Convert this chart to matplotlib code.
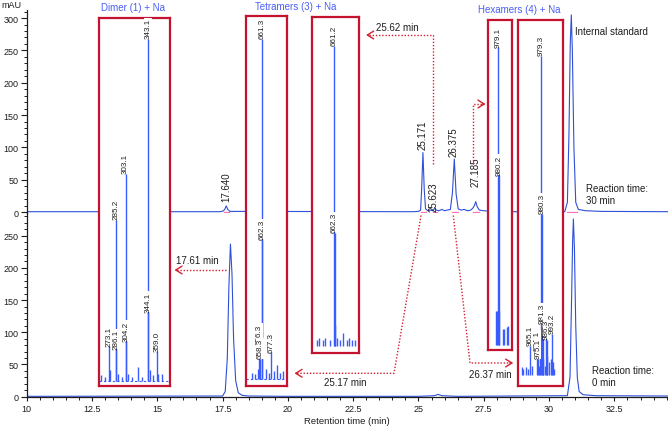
import matplotlib
matplotlib.use('Agg')
import matplotlib.pyplot as plt
from matplotlib.ticker import MultipleLocator, FuncFormatter

plt.rcParams['font.family'] = ['Liberation Sans', 'DejaVu Sans']

# chromatogram after 30 min reaction (top trace)
time_30 = [10.0, 17.40, 17.52, 17.58, 17.64, 17.70, 17.78, 24.80, 25.00, 25.08,
           25.12, 25.17, 25.22, 25.27, 25.35, 25.45, 25.55, 25.62, 25.68, 25.78,
           25.90, 26.00, 26.10, 26.22, 26.30, 26.37, 26.44, 26.52, 26.62, 26.75,
           26.88, 27.00, 27.08, 27.14, 27.19, 27.25, 27.33, 27.50, 27.80, 28.20,
           30.60, 30.70, 30.76, 30.81, 30.85, 30.89, 30.95, 31.02, 31.12, 31.40,
           32.00, 34.60]
mau_30 = [0.5, 0.5, 1.5, 4, 9.5, 4, 1, 0.5, 1, 3,
          35, 92, 35, 5, 2, 3, 2, 6, 3, 2,
          4, 2, 3, 4, 30, 82, 28, 5, 3, 4,
          2, 3, 6, 10, 16, 8, 3, 2, 1, 0.5,
          0.5, 15, 120, 260, 305, 250, 100, 15, 4, 2,
          1, 0.5]

# chromatogram at 0 min (bottom trace)
time_0 = [10.0, 17.50, 17.60, 17.68, 17.74, 17.80, 17.86, 17.92, 18.00, 18.10,
          18.25, 18.50, 20.0, 25.0, 25.60, 25.75, 25.90, 26.5, 30.70, 30.80,
          30.86, 30.90, 30.93, 30.97, 31.02, 31.08, 31.15, 31.30, 31.80, 34.60]
mau_0 = [0.5, 1, 8, 60, 170, 237, 190, 90, 25, 6,
         2, 1, 0.5, 0.5, 1.5, 3.5, 1.5, 0.5, 1.5, 30,
         150, 240, 276, 230, 110, 30, 8, 3, 1.5, 1]

peak_names = ['17.640', '25.171', '25.623', '26.375', '27.185']
peak_label_x = [17.65, 25.16, 25.57, 26.36, 27.20]
peak_label_y = [17, 97, 1, 87, 40]

# mass spectra (relative intensity)
dimer_mz = [258.7, 266, 273.1, 274.9, 285.2, 286.1, 289.9, 296, 303.1, 304.2,
            307.9, 315, 325.9, 333, 343.1, 344.1, 347, 352, 359.0, 362, 368]
dimer_int = [1.5, 1, 10, 3, 47, 9, 2, 1, 60.5, 11.5,
             2, 1, 4, 1, 100, 20, 3, 1.5, 8.5, 2, 2]
dimer_labels = ['273.1', '285.2', '286.1', '303.1', '304.2', '343.1', '344.1', '359.0']

tetra1_mz = [643.5, 649.3, 655.3, 656.3, 658.3, 661.3, 662.3, 668.6, 674.3, 677.3,
             683, 687.3, 693, 698.9]
tetra1_int = [2, 1.5, 3, 10.3, 6, 100, 41, 3, 2, 8,
              2.5, 4.4, 2, 2.5]
tetra1_labels = ['656.3', '658.3', '661.3', '662.3', '677.3']

tetra2_mz = [630.9, 635.5, 641.4, 646, 654.2, 661.2, 662.3, 663.3, 667, 671.7,
             677.3, 683.4, 688, 692.7, 697.4]
tetra2_int = [2, 2.5, 2, 2.5, 2, 100, 37.6, 7, 2.5, 2,
              4.2, 2, 2.5, 2, 2]
tetra2_labels = ['661.2', '662.3']

hexa1_mz = [975.1, 976.8, 979.1, 980.2, 980.9, 986.8, 989.1, 993.8, 996.1]
hexa1_int = [11.5, 11.5, 100, 57, 11.5, 5.4, 5.4, 6, 6.5]
hexa1_labels = ['979.1', '980.2']

hexa2_mz = [955.2, 957.2, 960.5, 963.4, 965.1, 967.7, 974.1, 975.1, 977.0, 978.3,
            979.3, 980.3, 981.3, 982.3, 984.0, 985.3, 986.3, 987.3, 989.0, 991.5,
            993.2, 994.5, 996.0]
hexa2_int = [2.4, 1.9, 2.4, 1.9, 9.2, 3, 7.6, 5, 3, 6,
             100, 50.4, 16, 5, 3, 12, 11, 6, 4, 5,
             13, 4, 2]
hexa2_labels = ['965.1', '974.1', '975.1', '979.3', '980.3', '981.3', '985.3', '986.3', '993.2']

trace_blue = '#2f50d8'
spec_blue = '#3a5cff'
frame_red = '#c4122f'
arrow_red = '#d42030'
head_blue = '#4a5ef5'
ink = '#1e1e1e'

W, H = 668, 427
fig = plt.figure(figsize=(W / 100, H / 100), dpi=100)


def px_axes(l, t, r, b):
    return fig.add_axes([l / W, 1 - b / H, (r - l) / W, (b - t) / H])


xmax = 10 + (W - 26.7) / 26.12

ax0 = px_axes(26.7, 213.5, W, 398.3)
ax30 = px_axes(26.7, 11, W, 214)
for ax in (ax0, ax30):
    ax.patch.set_alpha(0)
    ax.set_xlim(10, xmax)
    ax.spines['top'].set_visible(False)
    ax.spines['right'].set_visible(False)
    ax.spines['left'].set_color(ink)
    ax.spines['left'].set_linewidth(0.9)
    ax.yaxis.set_major_locator(MultipleLocator(50))
    ax.yaxis.set_minor_locator(MultipleLocator(10))
    ax.tick_params(axis='y', which='major', direction='out', length=4.3, width=0.8,
                   labelsize=6.5, pad=1.5, colors=ink)
    ax.tick_params(axis='y', which='minor', direction='out', length=2.4, width=0.7, colors=ink)

ax0.set_ylim(-1, 286)
ax30.set_ylim(-1.5, 312.5)
ax30.spines['bottom'].set_visible(False)
ax30.set_xticks([])

ax0.spines['bottom'].set_color(ink)
ax0.spines['bottom'].set_linewidth(0.9)
ax0.xaxis.set_major_locator(MultipleLocator(2.5))
ax0.xaxis.set_minor_locator(MultipleLocator(0.5))
ax0.xaxis.set_major_formatter(FuncFormatter(lambda v, p: '%g' % v))
ax0.tick_params(axis='x', which='major', direction='out', length=3.2, width=0.8,
                labelsize=6.5, pad=1.5, colors=ink)
ax0.tick_params(axis='x', which='minor', direction='out', length=2, width=0.7, colors=ink)
ax0.set_xlabel('Retention time (min)', fontsize=6.8, labelpad=2, color=ink)

ax0.plot(time_0, mau_0, color=trace_blue, lw=0.8)
ax30.plot(time_30, mau_30, color=trace_blue, lw=0.8)

# integration marks
for a, b in [(17.55, 17.74), (25.08, 25.30), (25.55, 25.70), (26.28, 26.50),
             (27.08, 27.33), (30.70, 31.05)]:
    ax30.plot([a, b], [0.8, 0.8], color='#ff6fb5', lw=0.9)

for name, x, y in zip(peak_names, peak_label_x, peak_label_y):
    ax30.text(x, y, name, rotation=90, ha='center', va='bottom', fontsize=7, color=ink)

ax30.text(30.99, 280, 'Internal standard', fontsize=7, va='center', color=ink)
ax30.text(31.42, 28, 'Reaction time:\n30 min', fontsize=7, va='center',
          linespacing=1.35, color=ink)
ax0.text(31.65, 32, 'Reaction time:\n0 min', fontsize=7, va='center',
         linespacing=1.35, color=ink)


def spectrum(box, mz, inten, labels, xlim, ylim, dashed=False):
    ax = px_axes(*box)
    ax.set_zorder(5)
    ax.vlines(mz, 0, inten, colors=spec_blue, lw=1.0)
    if dashed:
        ax.axhline(0, color=spec_blue, lw=0.8, ls=(0, (2, 2)))
    height = dict(zip(mz, inten))
    for lab in labels:
        x = float(lab)
        ax.annotate(lab, (x, height[x]), xytext=(0, 0.5), textcoords='offset points',
                    rotation=90, ha='center', va='bottom', fontsize=5.8, color=ink,
                    bbox=dict(fc='white', ec='none', pad=0.1))
    ax.set_xlim(xlim)
    ax.set_ylim(ylim)
    ax.set_xticks([])
    ax.set_yticks([])
    for s in ax.spines.values():
        s.set_color(frame_red)
        s.set_linewidth(1.6)
    return ax


spectrum((99, 19, 170, 387), dimer_mz, dimer_int, dimer_labels, (255.1, 383), (-1.6, 106.1), dashed=True)
spectrum((246, 16.7, 286.7, 387.3), tetra1_mz, tetra1_int, tetra1_labels, (633.5, 704.8), (-2, 106.9), dashed=True)
spectrum((312.3, 18.3, 359, 354), tetra2_mz, tetra2_int, tetra2_labels, (623.2, 705), (-2.4, 109.5))
spectrum((487.7, 20.7, 512.3, 350.7), hexa1_mz, hexa1_int, hexa1_labels, (960.5, 1003.6), (-1.6, 109.3))
spectrum((518.3, 20.7, 562.7, 387.3), hexa2_mz, hexa2_int, hexa2_labels, (950.9, 1006.4), (-3.5, 111.3))

# overlay for arrows and headings, in image pixels
ov = fig.add_axes([0, 0, 1, 1])
ov.set_zorder(10)
ov.patch.set_alpha(0)
ov.set_xlim(0, W)
ov.set_ylim(H, 0)
ov.axis('off')

arrows = [
    ([(225.7, 271), (176, 271)], (171.7, 271)),
    ([(421, 216.5), (394, 374.3), (296, 374.3)], (291.7, 374.3)),
    ([(433.3, 165), (433.3, 36), (367.5, 36)], (363.3, 36)),
    ([(453.3, 216.5), (470, 364), (511.5, 364)], (516, 364)),
    ([(473.3, 165), (473.3, 105), (484, 105)], (488.3, 105)),
]
for path, tip in arrows:
    xs = [p[0] for p in path]
    ys = [p[1] for p in path]
    ov.plot(xs, ys, color=arrow_red, lw=1.0, ls=(0, (1, 1.3)))
    dx = tip[0] - xs[-1]
    ov.annotate('', xy=tip, xytext=(tip[0] - 2 * dx, tip[1]),
                arrowprops=dict(arrowstyle='->,head_length=0.45,head_width=0.28',
                                color=arrow_red, lw=1.0))

ov.text(197.5, 261, '17.61 min', fontsize=7, ha='center', va='center', color=ink)
ov.text(345, 383, '25.17 min', fontsize=7, ha='center', va='center', color=ink)
ov.text(397.5, 28.3, '25.62 min', fontsize=7, ha='center', va='center', color=ink)
ov.text(490.3, 375, '26.37 min', fontsize=7, ha='center', va='center', color=ink)

ov.text(133.3, 8.3, 'Dimer (1) + Na', fontsize=7, ha='center', va='center', color=head_blue)
ov.text(295.8, 7.3, 'Tetramers (3) + Na', fontsize=7, ha='center', va='center', color=head_blue)
ov.text(519, 10, 'Hexamers (4) + Na', fontsize=7, ha='center', va='center', color=head_blue)
ov.text(1, 5, 'mAU', fontsize=6.5, ha='left', va='center', color=ink)

fig.savefig('out.png', dpi=100)
